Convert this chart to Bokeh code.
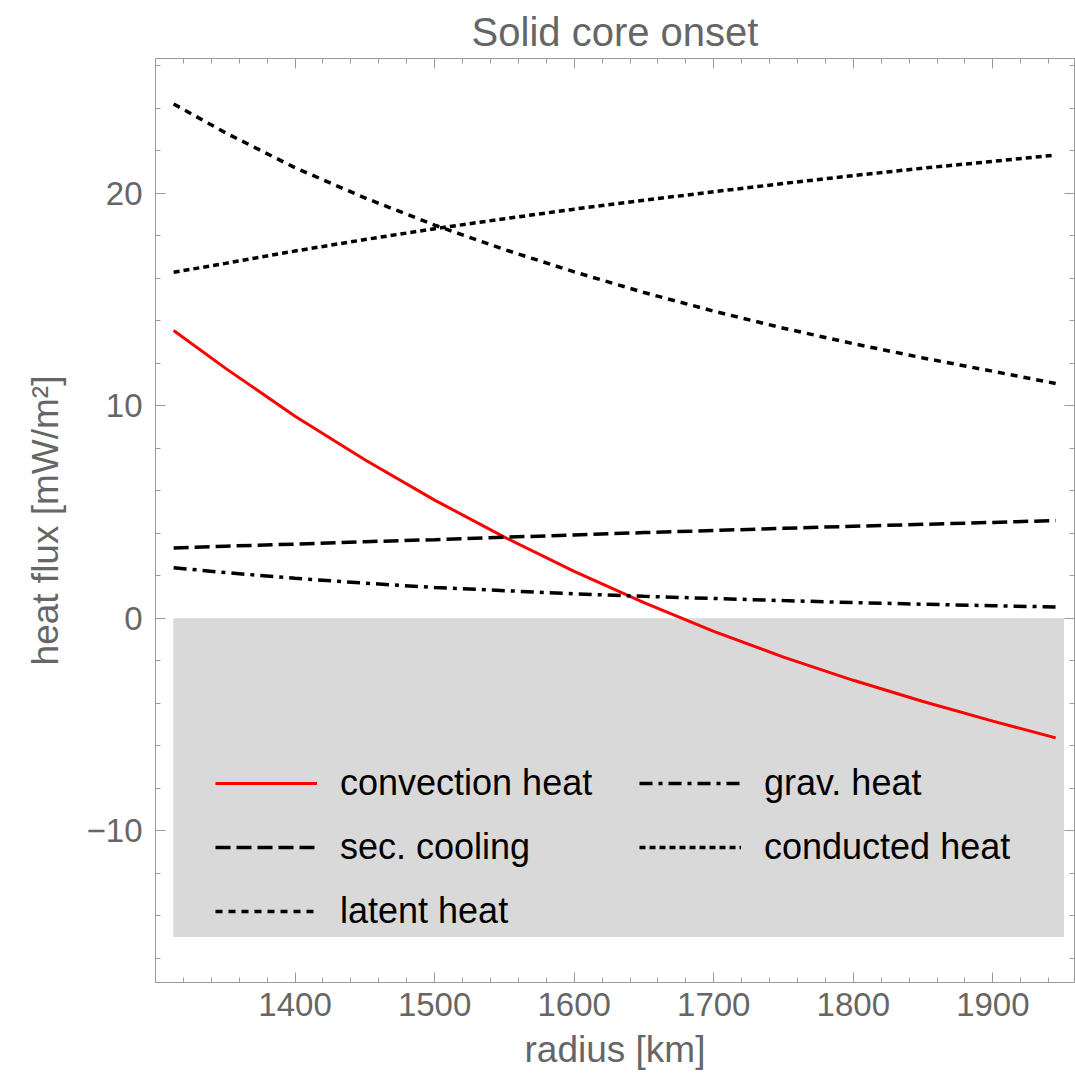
from bokeh.plotting import figure
from bokeh.models import Range1d, LinearAxis, FixedTicker, Legend, LegendItem
from bokeh.embed import file_html
from bokeh.resources import INLINE

# ---- data ----
radius = [1313, 1350, 1400, 1450, 1500, 1550, 1600, 1650, 1700, 1750, 1800, 1850, 1900, 1945]
convection_heat = [13.54, 11.77, 9.51, 7.46, 5.56, 3.82, 2.21, 0.74, -0.62, -1.83, -2.92, -3.92, -4.84, -5.63]
sec_cooling = [3.31, 3.39, 3.49, 3.60, 3.70, 3.81, 3.92, 4.03, 4.13, 4.23, 4.33, 4.42, 4.51, 4.60]
latent_heat = [24.20, 22.85, 21.20, 19.78, 18.50, 17.35, 16.30, 15.33, 14.45, 13.65, 12.92, 12.25, 11.62, 11.05]
grav_heat = [2.38, 2.15, 1.88, 1.65, 1.45, 1.30, 1.15, 1.03, 0.93, 0.83, 0.74, 0.66, 0.59, 0.53]
conducted_heat = [16.28, 16.70, 17.28, 17.82, 18.33, 18.80, 19.25, 19.67, 20.07, 20.46, 20.83, 21.18, 21.50, 21.80]

shade_left, shade_right = 1312.7, 1951.0
shade_bottom, shade_top = -15.0, 0.0

x_major_ticks = [1400, 1500, 1600, 1700, 1800, 1900]
x_minor_ticks = list(range(1300, 1961, 20))
y_major_ticks = [-10, 0, 10, 20]
y_minor_ticks = list(range(-16, 27, 2))
y_tick_labels = {-10: "\u221210", 0: "0", 10: "10", 20: "20"}

FONT = "Liberation Sans"
GREY = "#666666"
FRAME = "#9a9a9a"

p = figure(width=1075, height=1084, output_backend="svg", toolbar_location=None,
           x_range=Range1d(1300, 1958.5), y_range=Range1d(-17.14, 26.34),
           min_border_left=155, min_border_right=1, min_border_top=58, min_border_bottom=102,
           title="Solid core onset")
p.grid.visible = False
p.outline_line_color = FRAME
p.background_fill_color = "white"
p.border_fill_color = "white"

p.title.text_font = FONT
p.title.text_font_size = "40px"
p.title.text_font_style = "normal"
p.title.text_color = GREY
p.title.align = "center"

def style_axis(ax):
    ax.axis_line_color = FRAME
    ax.major_tick_line_color = FRAME
    ax.minor_tick_line_color = FRAME
    ax.major_tick_in = 10
    ax.major_tick_out = 0
    ax.minor_tick_in = 5
    ax.minor_tick_out = 0
    ax.major_label_text_font = FONT
    ax.major_label_text_color = GREY
    ax.major_label_text_font_size = "33px"
    ax.axis_label_text_font = FONT
    ax.axis_label_text_color = GREY
    ax.axis_label_text_font_style = "normal"
    ax.axis_label_text_font_size = "37px"

p.xaxis.ticker = FixedTicker(ticks=x_major_ticks, minor_ticks=x_minor_ticks)
p.yaxis.ticker = FixedTicker(ticks=y_major_ticks, minor_ticks=y_minor_ticks)
p.xaxis.axis_label = "radius [km]"
p.yaxis.axis_label = "heat flux [mW/m\u00b2]"
style_axis(p.xaxis[0])
style_axis(p.yaxis[0])
p.xaxis.major_label_standoff = 10
p.xaxis.axis_label_standoff = 10
p.yaxis.major_label_standoff = 13
p.yaxis.axis_label_standoff = 18
p.yaxis.major_label_overrides = y_tick_labels

# frame ticks (no labels) on top and right: built from minor-tick-only axes
def frame_axis(minor, length):
    ax = LinearAxis(ticker=FixedTicker(ticks=[], minor_ticks=minor))
    ax.axis_line_color = FRAME
    ax.minor_tick_line_color = FRAME
    ax.minor_tick_in = length
    ax.minor_tick_out = 0
    ax.major_tick_in = 0
    ax.major_tick_out = 0
    ax.major_label_standoff = 0
    return ax

p.add_layout(frame_axis(x_minor_ticks, 5), "above")
p.add_layout(frame_axis(x_major_ticks, 10), "above")
p.add_layout(frame_axis(y_minor_ticks, 5), "right")
p.add_layout(frame_axis(y_major_ticks, 10), "right")

p.quad(left=[shade_left], right=[shade_right], bottom=[shade_bottom], top=[shade_top],
       fill_color="#d9d9d9", line_color=None)

r_conv = p.line(radius, convection_heat, line_color="red", line_width=3)
r_sec = p.line(radius, sec_cooling, line_color="black", line_width=3.5, line_dash="15 6")
r_lat = p.line(radius, latent_heat, line_color="black", line_width=3.5, line_dash="7 6")
r_grav = p.line(radius, grav_heat, line_color="black", line_width=3.5, line_dash="13 6 4 6")
r_cond = p.line(radius, conducted_heat, line_color="black", line_width=3.5, line_dash="6 4")

def make_legend(items, loc):
    return Legend(items=items, location=loc, padding=0, margin=0, spacing=22,
                  glyph_width=102, glyph_height=40, label_height=40, label_standoff=23,
                  label_text_font=FONT, label_text_font_size="36px", label_text_color="black",
                  background_fill_alpha=0, border_line_alpha=0)

leg1 = make_legend([LegendItem(label="convection heat", renderers=[r_conv]),
                    LegendItem(label="sec. cooling", renderers=[r_sec]),
                    LegendItem(label="latent heat", renderers=[r_lat])], (60, 50))
leg2 = make_legend([LegendItem(label="grav. heat", renderers=[r_grav]),
                    LegendItem(label="conducted heat", renderers=[r_cond])], (484, 114))
p.add_layout(leg1, "center")
p.add_layout(leg2, "center")

open("out.html", "w").write(file_html(p, INLINE))
